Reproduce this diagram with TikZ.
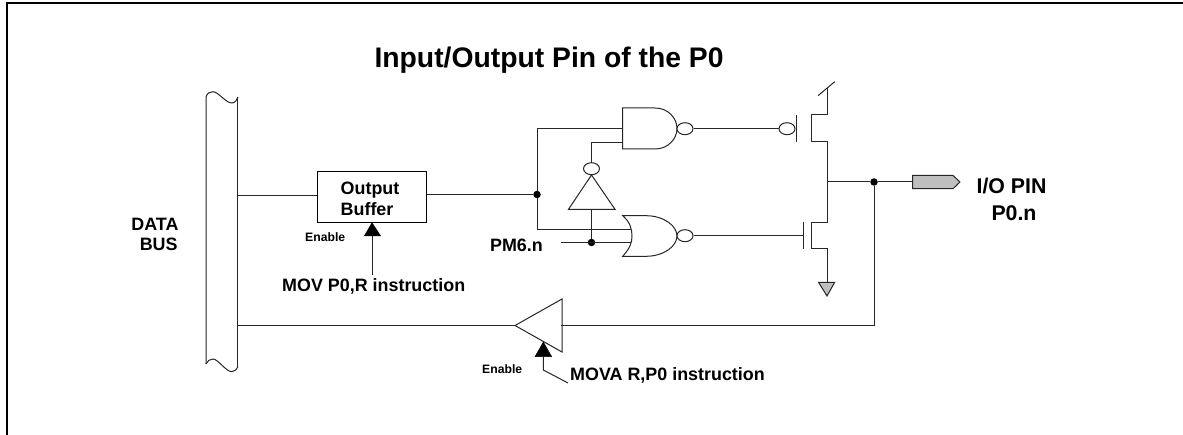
\documentclass[tikz,border=0pt]{standalone}
\usepackage{fontspec}
\setmainfont{Liberation Sans}
\tikzset{
 wire/.style={line width=1pt,draw=black!85},
 lbl/.style={inner sep=0pt,font=\bfseries\fontsize{17.9}{20}\selectfont,align=center},
 biglbl/.style={inner sep=0pt,font=\bfseries\fontsize{21.3}{24}\selectfont},
 small/.style={inner sep=0pt,font=\bfseries\fontsize{12.2}{14}\selectfont},
 bubble/.style={ellipse,draw=black!85,line width=1pt,minimum width=16pt,minimum height=12pt,inner sep=0pt,fill=white},
 dot/.style={circle,fill=black,inner sep=0pt,minimum size=7.5pt},
}
\usetikzlibrary{shapes.geometric}
\begin{document}
\begin{tikzpicture}[x=1pt,y=-1pt]
\useasboundingbox (0,0) rectangle (1183,435);
% frame
\draw[line width=2pt] (7,435) -- (7,3) -- (1183,3);
% title
\node[inner sep=0pt,font=\bfseries\fontsize{28.3}{32}\selectfont] (title) at (549,60) {Input/Output Pin of the P0};
% data bus
\draw[wire] (206,364) -- (206,97) .. controls (207,93) and (210,91.7) .. (213,91.7) .. controls (218,91.7) and (226,103) .. (231.7,103) .. controls (235,103) and (237,100) .. (238,97);
\draw[wire] (237.6,97) -- (237.6,367);
\draw[wire] (206,364) .. controls (207,361) and (210,359) .. (213,359) .. controls (218,359) and (226,371.7) .. (231.7,371.7) .. controls (235,371.7) and (237,369) .. (238,366.7);
\node[lbl] (bus1) at (155,224) {DATA};
\node[lbl] (bus2) at (158.7,244) {BUS};
% output buffer
\node[draw=black,line width=1pt,minimum width=109.3pt,minimum height=51pt,inner sep=0pt] (buf) at (372.3,196.8) {};
\node[lbl,anchor=west] (buft1) at (340.5,190) {Output};
\node[lbl,anchor=west] (buft2) at (340.5,209) {Buffer};
\coordinate (busA) at (237.6,195.3);
\draw[wire] (busA) -- (buf.west |- busA);
\node[small,anchor=west] (en1) at (305,236.7) {Enable};
\coordinate (arr1) at (372,222.7);
\draw[fill=black,draw=black] (arr1) -- (380.7,236) -- (364.3,236) -- cycle;
\coordinate (m1) at (372,236);
\coordinate (m2) at (372,275);
\draw[wire] (m1) -- (m2);
\node[lbl,anchor=west] (mov) at (282,286) {MOV P0,R instruction};
% junction
\node[dot] (j1) at (537,194.5) {};
\draw[wire] (buf.east |- j1) -- (j1);
% NAND
\coordinate (nandTL) at (622.7,108);
\draw[wire] (622.7,108) -- (655,108) .. controls (668,108) and (677,118) .. (677,128.5) .. controls (677,139) and (668,149) .. (655,149) -- (622.7,149) -- cycle;
\node[bubble] (b1) at (685,128.7) {};
\node[bubble] (b2) at (787,128.7) {};
\draw[wire] (b1) -- (b2);
\draw[wire] (j1) -- (537,128.7) -- (622.7,128.7);
% inverter
\node[bubble] (b3) at (591.5,168.7) {};
\draw[wire] (b3) -- (591.5,142.3) -- (622.7,142.3);
\draw[wire] (591.5,175) -- (615,209.3) -- (568.5,209.3) -- cycle;
% NOR
\draw[wire] (622.7,215.7) -- (646,215.7) .. controls (664,215.7) and (677,226) .. (677,236) .. controls (677,246) and (664,256.3) .. (646,256.3) -- (622.7,256.3) .. controls (630,248) and (632,243) .. (632,236) .. controls (632,229) and (630,222) .. (622.7,215.7) -- cycle;
\node[bubble] (b4) at (685,235.7) {};
\draw[wire] (j1) -- (537,229.5) -- (631,229.5);
\node[dot] (j2) at (591.5,242.5) {};
\draw[wire] (591.5,209.3) -- (j2);
\coordinate (pm) at (560.7,242.7);
\draw[wire] (pm) -- (630.5,242.7);
\node[lbl,anchor=east] (pmt) at (543,245) {PM6.n};
% transistors
\coordinate (gn) at (803.5,235.7);
\draw[wire] (b4) -- (gn);
\draw[wire] (796,115) -- (796,142);
\draw[wire] (803.5,222) -- (803.5,249);
\draw[wire] (818,95.7) -- (834.7,81.7);
\draw[wire] (827,88) -- (827,115) -- (811,115) -- (811,142) -- (827,142) -- (827,222.7) -- (811,222.7) -- (811,249) -- (827,249) -- (827,282.3);
\draw[wire,fill=black!25] (818.5,282.3) -- (834.7,282.3) -- (827,296) -- cycle;
% output
\node[dot] (j3) at (874,182) {};
\coordinate (drain) at (827,182);
\draw[wire] (drain) -- (j3);
\draw[wire,fill=black!25] (912.7,175.5) -- (953,175.5) -- (960,182) -- (953,188.7) -- (912.7,188.7) -- cycle;
\draw[wire] (j3) -- (912.7,182);
\node[biglbl] (pin1) at (1011.5,185.5) {I/O PIN};
\node[biglbl] (pin2) at (1014,213) {P0.n};
% feedback buffer
\draw[wire] (562,299) -- (562,352) -- (515,325.5) -- cycle;
\draw[wire] (j3) -- (874,326) -- (561,326);
\draw[wire] (515,325.5) -- (237.6,325.5);
\draw[fill=black,draw=black] (543.3,342) -- (551.7,356.7) -- (535,356.7) -- cycle;
\draw[wire] (543.3,356.7) -- (543.3,370) -- (568,383);
\node[small,anchor=west] (en2) at (482,368.7) {Enable};
\node[lbl,anchor=west] (mova) at (570,375) {MOVA R,P0 instruction};
\end{tikzpicture}
\end{document}
